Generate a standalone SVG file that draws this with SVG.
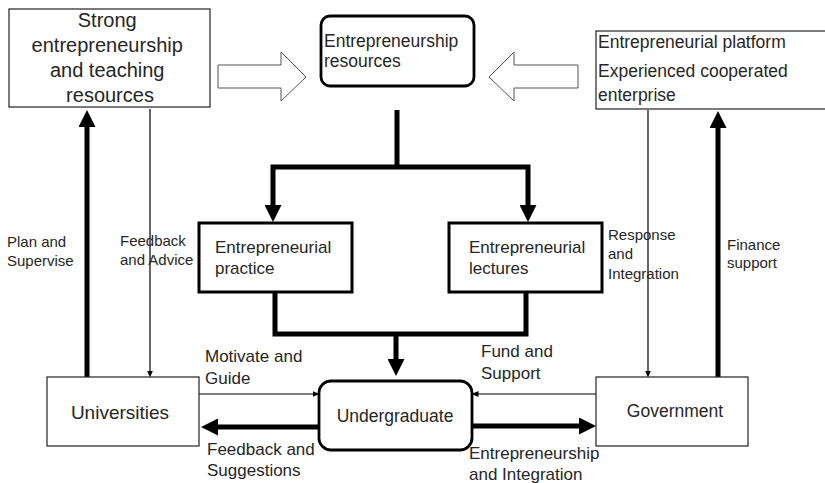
<svg xmlns="http://www.w3.org/2000/svg" width="825" height="483" viewBox="0 0 825 483">
<style>
  text { font-family: "Liberation Sans", Arial, sans-serif; fill: #262626; }
  .thin { fill: #fff; stroke: #222; stroke-width: 1.2; }
  .bold { fill: #fff; stroke: #000; stroke-width: 3; }
  .round { fill: #fff; stroke: #000; stroke-width: 2.8; }
  .hollow { fill: #fff; stroke: #555; stroke-width: 1; }
  .thick { fill: none; stroke: #000; stroke-width: 5; }
  .fine { fill: none; stroke: #000; stroke-width: 1.2; }
  .lbl { font-size: 15px; }
  .lbl2 { font-size: 17px; }
  .btxt { font-size: 17px; }
</style>
<defs>
  <marker id="big" markerUnits="userSpaceOnUse" viewBox="0 0 17 17" refX="1" refY="8.5" markerWidth="17" markerHeight="17" orient="auto-start-reverse">
    <path d="M0,0 L17,8.5 L0,17 z" fill="#000"/>
  </marker>
  <marker id="small" markerUnits="userSpaceOnUse" viewBox="0 0 7 6" refX="0.5" refY="3" markerWidth="7" markerHeight="6" orient="auto">
    <path d="M0,0 L7,3 L0,6 z" fill="#000"/>
  </marker>
</defs>

<g id="connectors">
  <polygon class="hollow" points="218,65 281,65 281,52 306,77 281,101 281,88 218,88"/>
  <polygon class="hollow" points="578,65 514,65 514,52 489,77 514,101 514,88 578,88"/>
  <path class="thick" d="M397,110 V167"/>
  <path class="thick" d="M273,206 V167 H528 V206" marker-start="url(#big)" marker-end="url(#big)"/>
  <path class="thick" d="M275,292 V334 H526 V292"/>
  <path class="thick" d="M396,334 V360" marker-end="url(#big)"/>
  <path class="thick" d="M87,377 V126" marker-end="url(#big)"/>
  <path class="fine" d="M150,109 V371" marker-end="url(#small)"/>
  <path class="fine" d="M648,110 V371" marker-end="url(#small)"/>
  <path class="thick" d="M718,377 V127" marker-end="url(#big)"/>
  <path class="fine" d="M199,394 H313" marker-end="url(#small)"/>
  <path class="thick" d="M319,427 H217" marker-end="url(#big)"/>
  <path class="fine" d="M596,394 H478" marker-end="url(#small)"/>
  <path class="thick" d="M472,426 H580" marker-end="url(#big)"/>
</g>

<g id="teaching-resources">
  <rect class="thin" x="9" y="9" width="201" height="98"/>
  <text x="110" text-anchor="middle" style="font-size:20px">
    <tspan x="110" y="27">Strong</tspan>
    <tspan x="110" y="52">entrepreneurship</tspan>
    <tspan x="110" y="77">and teaching</tspan>
    <tspan x="110" y="102">resources</tspan>
  </text>
</g>

<g id="entrepreneurship-resources">
  <rect class="round" x="321" y="16" width="153" height="70" rx="9"/>
  <text x="324" y="46.5" style="font-size:17.5px">Entrepreneurship</text>
  <text x="324" y="67" style="font-size:17.5px">resources</text>
</g>

<g id="platform">
  <rect class="thin" x="596" y="31" width="240" height="78"/>
  <text x="598" y="48" style="font-size:17.5px">Entrepreneurial platform</text>
  <text x="598" y="77" style="font-size:17.5px">Experienced cooperated</text>
  <text x="598" y="101" style="font-size:17.5px">enterprise</text>
</g>

<g id="practice">
  <rect class="bold" x="199" y="223" width="153" height="69"/>
  <text class="btxt" x="215" y="253">Entrepreneurial</text>
  <text class="btxt" x="215" y="274">practice</text>
</g>

<g id="lectures">
  <rect class="bold" x="449" y="223" width="153" height="69"/>
  <text class="btxt" x="469" y="253">Entrepreneurial</text>
  <text class="btxt" x="469" y="274">lectures</text>
</g>

<g id="universities">
  <rect class="thin" x="47" y="377" width="152" height="69"/>
  <text x="120" y="419" text-anchor="middle" style="font-size:19px">Universities</text>
</g>

<g id="undergraduate">
  <rect class="round" x="319" y="381" width="153" height="69" rx="12"/>
  <text x="395" y="422" text-anchor="middle" style="font-size:17.5px">Undergraduate</text>
</g>

<g id="government">
  <rect class="thin" x="596" y="377" width="152" height="69"/>
  <text x="675" y="417" text-anchor="middle" style="font-size:17.5px">Government</text>
</g>

<g id="labels">
  <text class="lbl" x="7" y="247">Plan and</text>
  <text class="lbl" x="7" y="266">Supervise</text>
  <text class="lbl" x="120" y="246">Feedback</text>
  <text class="lbl" x="120" y="265">and Advice</text>
  <text class="lbl" x="608" y="240">Response</text>
  <text class="lbl" x="608" y="259">and</text>
  <text class="lbl" x="608" y="279">Integration</text>
  <text class="lbl" x="727" y="250">Finance</text>
  <text class="lbl" x="727" y="268">support</text>
  <text class="lbl2" x="205" y="362">Motivate and</text>
  <text class="lbl2" x="205" y="384">Guide</text>
  <text class="lbl2" x="207" y="455">Feedback and</text>
  <text class="lbl2" x="207" y="476">Suggestions</text>
  <text class="lbl2" x="481" y="357">Fund and</text>
  <text class="lbl2" x="481" y="379">Support</text>
  <text class="lbl2" x="469" y="459">Entrepreneurship</text>
  <text class="lbl2" x="469" y="480">and Integration</text>
</g>
</svg>
